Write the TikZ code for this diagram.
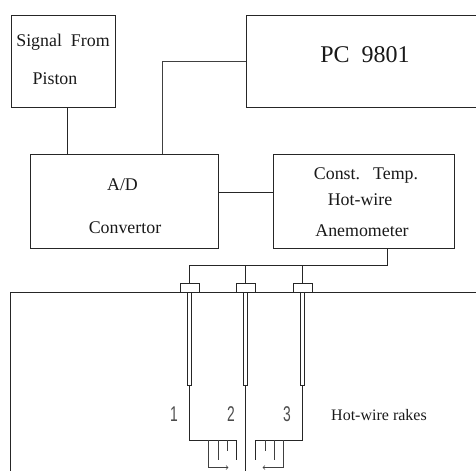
\documentclass[tikz,border=0pt]{standalone}
\usepackage{fontspec}
\setmainfont{Liberation Serif}
\newfontfamily\numfont{Liberation Sans}
\tikzset{
  x=0.75pt,y=-0.75pt,
  ln/.style={draw=black!85,line width=0.6pt},
  thin ln/.style={draw=black!75,line width=0.5pt},
  blockbox/.style={ln,rectangle,inner sep=0pt,outer sep=0pt,anchor=north west},
  lbl/.style={inner sep=0pt,font=\fontsize{13.4}{15}\selectfont,text=black!90},
  big/.style={inner sep=0pt,font=\fontsize{18}{20}\selectfont,text=black!90},
  numl/.style={inner sep=0pt,font=\numfont\fontsize{16}{18}\selectfont,text=black!70},
  capbox/.style={ln,rectangle,inner sep=0pt,outer sep=0pt,minimum width=14.25pt,minimum height=6.75pt,anchor=south},
  tubebox/.style={ln,rectangle,inner sep=0pt,outer sep=0pt,minimum width=3pt,minimum height=69.75pt,anchor=north}
}
\begin{document}
\begin{tikzpicture}
\useasboundingbox (0,0) rectangle (476,471);
% blocks
\node[blockbox,minimum width=78pt,minimum height=69pt] (sig) at (11,15) {};
\node[blockbox,minimum width=141pt,minimum height=70.5pt] (ad) at (30,154) {};
\node[blockbox,minimum width=135.5pt,minimum height=70.5pt] (cta) at (273.5,154) {};
\coordinate (pcTR) at (476,15);
\coordinate (pcBR) at (476,107);
\coordinate (pcTL) at (246,15);
\coordinate (pcBL) at (246,107);
\coordinate (pcin) at (246,61);
\draw[ln] (pcTR) -- (pcTL) -- (pcBL) -- (pcBR);
% text
\node[lbl] (t1) at (63,42.5) {Signal\hspace{0.25em} From};
\node[lbl] (t2) at (55,79) {Piston};
\node[big] (t3) at (365,55) {PC\hspace{0.25em} 9801};
\node[lbl] (t4) at (122.5,184.5) {A/D};
\node[lbl] (t5) at (125,227.5) {Convertor};
\node[lbl] (t6) at (366,175) {Const.\hspace{0.4em} Temp.};
\node[lbl] (t7) at (360,200) {Hot-wire};
\node[lbl] (t8) at (362,231) {Anemometer};
% connectors
\draw[ln] (sig.south -| 67,0) -- (ad.north -| 67,0);
\draw[thin ln] (ad.north -| 162,0) -- (162,61) -- (pcin);
\draw[ln] (ad.east |- 0,192) -- (cta.west |- 0,192);
% ground
\coordinate (gl) at (10,292);
\coordinate (gr) at (476,292);
\coordinate (glb) at (10,471);
\draw[ln] (glb) -- (gl) -- (gr);
% caps and tubes
\node[capbox] (c1) at (189.5,292) {};
\node[capbox] (c2) at (245.75,292) {};
\node[capbox] (c3) at (302.5,292) {};
\node[tubebox] (p1) at (189.5,292) {};
\node[tubebox] (p2) at (245.5,292) {};
\node[tubebox] (p3) at (302,292) {};
% bus
\coordinate (bus) at (387.5,265);
\draw[ln] (cta.south -| bus) -- (bus) -- (189,265) -- (c1.north -| 189,0);
\draw[ln] (245.75,265) -- (c2.north);
\draw[ln] (302.5,265) -- (c3.north);
% wires
\draw[ln] (p2.south) -- (245.5,471);
\draw[ln] (p1.south) -- (189.5,440) -- (236.7,440) -- (236.7,460);
\draw[thin ln] (208,440) -- (208,467.5) -- (228,467.5);
\draw[thin ln] (218,440) -- (218,460);
\draw[thin ln] (227,440) -- (227,451);
\draw[ln] (p3.south) -- (302,440) -- (255,440) -- (255,460);
\draw[thin ln] (283.5,440) -- (283.5,467.5) -- (263,467.5);
\draw[thin ln] (274,440) -- (274,460);
\draw[thin ln] (265,440) -- (265,451);
\draw[thin ln] (226,465.5) -- (228,467.5) -- (226,469.5);
\draw[thin ln] (265,465.5) -- (263,467.5) -- (265,469.5);
% labels
\node[numl] (n1) at (174,414) {\scalebox{0.65}[1]{1}};
\node[numl] (n2) at (231,414) {\scalebox{0.65}[1]{2}};
\node[numl] (n3) at (287,414) {\scalebox{0.65}[1]{3}};
\node[lbl,font=\fontsize{12}{14}\selectfont] (hw) at (379,415) {Hot-wire rakes};
\end{tikzpicture}
\end{document}
